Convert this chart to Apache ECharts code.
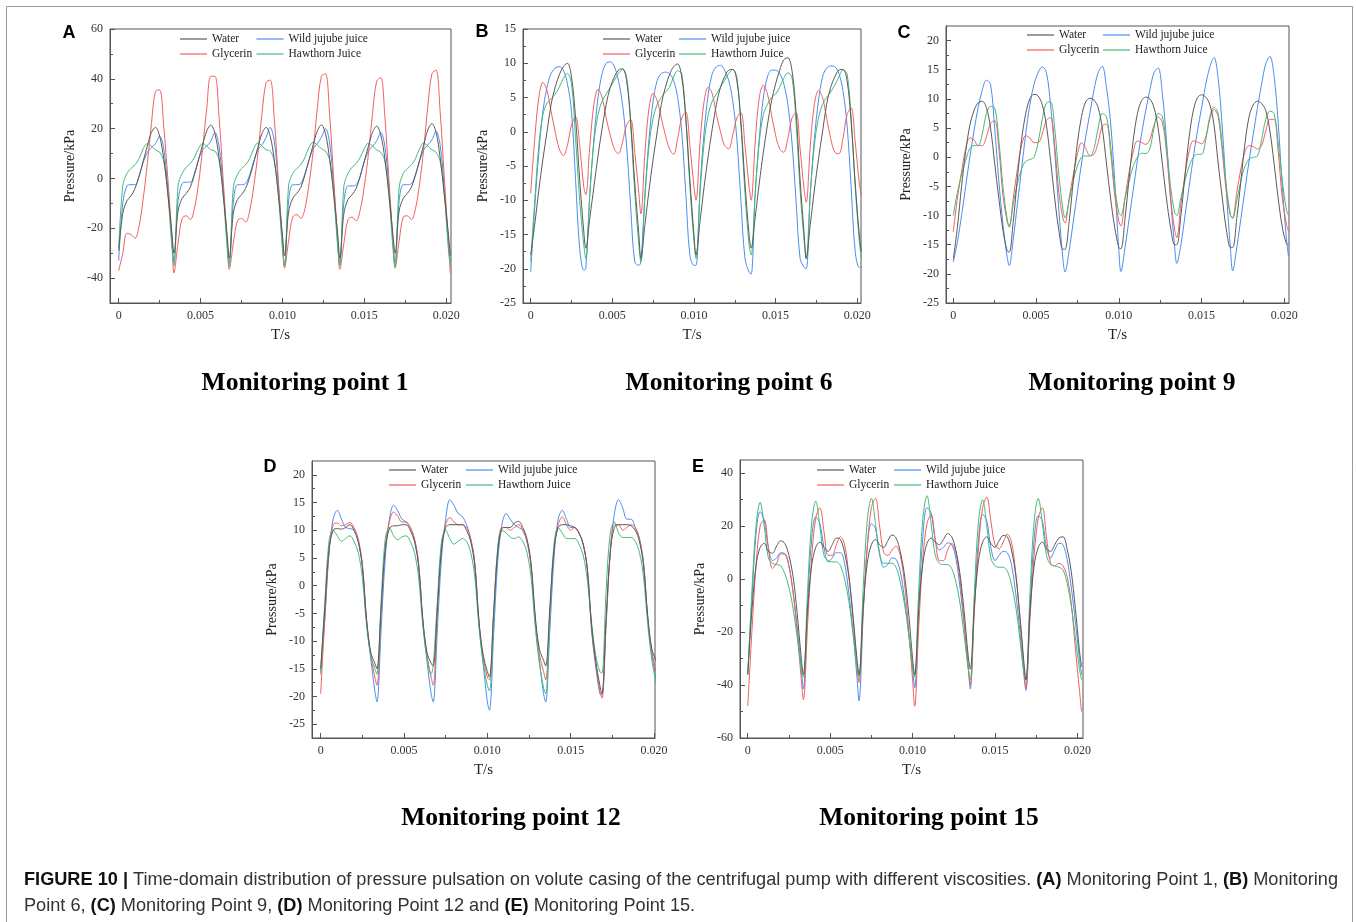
<!DOCTYPE html>
<html>
<head>
<meta charset="utf-8">
<title>Pressure pulsation</title>
<script src="https://cdn.jsdelivr.net/npm/echarts@6/dist/echarts.min.js"></script>
<style>
  html, body { margin: 0; padding: 0; background: #fff; }
  #main { width: 1356px; height: 922px; }
</style>
</head>
<body>
<div id="main"></div>
<script>
// time samples in ms (one line per impeller period)
const timeMs = [
  0, 0.25, 0.5, 0.75, 1, 1.25, 1.5, 1.75, 2, 2.25, 2.5, 2.75, 3, 3.25,
  3.375, 3.625, 3.875, 4.125, 4.375, 4.625, 4.875, 5.125, 5.375, 5.625, 5.875, 6.125, 6.375, 6.625,
  6.75, 7, 7.25, 7.5, 7.75, 8, 8.25, 8.5, 8.75, 9, 9.25, 9.5, 9.75, 10,
  10.125, 10.375, 10.625, 10.875, 11.125, 11.375, 11.625, 11.875, 12.125, 12.375, 12.625, 12.875, 13.125, 13.375,
  13.5, 13.75, 14, 14.25, 14.5, 14.75, 15, 15.25, 15.5, 15.75, 16, 16.25, 16.5, 16.75,
  16.875, 17.125, 17.375, 17.625, 17.875, 18.125, 18.375, 18.625, 18.875, 19.125, 19.375, 19.625, 19.875, 20.125,
  20.25
]

// ---- Monitoring point 1 ----
const waterA = [
  -29, -14, -9, -7, -4, 1, 7, 13, 18.5, 20.5, 17, 8, -6, -22,
  -30, -13, -8, -6, -3.5, 1.5, 7.5, 13.5, 19, 21.5, 18, 8.5, -6, -23,
  -32, -14, -8.5, -6.5, -4, 0.5, 6.5, 12.5, 18, 20.5, 17, 7.5, -6.5, -23,
  -31, -13.5, -8, -6, -3.5, 1.5, 7.5, 13.5, 19, 21.5, 18, 8, -6, -22.5,
  -32, -14, -8.5, -6.5, -4, 1, 7, 13, 18.5, 21, 17.5, 8, -6.5, -23,
  -30, -13, -8, -6, -3.5, 1.5, 7.5, 13.5, 19.5, 22, 18.5, 8.5, -6, -22,
  -31
]
const jujubeA = [
  -33, -10, -3, -2.5, -2.5, 1, 6.5, 10.5, 12.5, 14, 17, 12, -4, -25,
  -33.5, -9, -2, -1.5, -1.5, 2, 7.5, 11.5, 13, 15, 18.5, 13, -3.5, -25.5,
  -34, -9.5, -2.5, -2.5, -2, 1.5, 7, 11.5, 13.5, 16.5, 20.5, 15, -3, -26,
  -35, -9, -2.5, -2.5, -2, 2, 7.5, 12, 14, 16.5, 20, 14.5, -3, -26,
  -34, -9.5, -3, -3, -2.5, 1, 7, 11, 13, 15, 18.5, 13, -3.5, -25.5,
  -34, -9, -2.5, -2.5, -2, 1.5, 7, 11.5, 13.5, 15.5, 19, 13.5, -3.5, -25,
  -33.5
]
const glycerinA = [
  -37, -30, -22, -22.5, -24, -19, -8, 6, 22, 35, 35.5, 21, 0, -23,
  -38, -26, -16, -15, -16.5, -12, -2, 12, 28, 41, 41, 25, 0, -25,
  -36.5, -26, -17, -16, -17.5, -13, -3, 10, 26, 38.5, 39.5, 24, -1, -25,
  -36, -25, -15.5, -14.5, -16, -12, -2, 11, 28, 41, 42, 26, 0, -25,
  -36.5, -26, -16.5, -15.5, -17, -12.5, -3, 10, 26, 39, 40.5, 25, -0.5, -25,
  -36, -25, -15.5, -15, -16.5, -12, -2, 12, 29, 42, 43.5, 27, 1, -25,
  -38
]
const hawthornA = [
  -28, -3, 2, 4, 5.5, 8, 12, 14, 13, 11.5, 10.5, 7, -6, -28,
  -35, -3, 2, 4.5, 6, 8.5, 12, 14, 13, 11.5, 11, 7.5, -6, -28,
  -35.5, -3.5, 1.5, 4, 5.5, 8, 12, 14.3, 13, 11.5, 11, 7, -6.5, -28.5,
  -35, -3, 2, 4, 5.5, 8.5, 12.5, 14.5, 13.5, 12, 11, 7.5, -6, -28,
  -35, -3, 2, 4.5, 6, 8.5, 12, 14.2, 13, 11.5, 10.5, 7, -6.5, -28.5,
  -35.5, -3.5, 2, 4, 5.5, 8, 12, 14.3, 13, 11.5, 10.5, 7, -6, -28,
  -35
]

// ---- Monitoring point 6 ----
const waterB = [
  -18, -13.5, -8.5, -4, 0, 4, 6.5, 8.3, 9.5, 10, 8, 2, -7, -14.5,
  -17, -12.5, -8, -3.5, 0.5, 4, 6.5, 8, 9, 9.2, 7.5, 1.5, -7.5, -15,
  -18.5, -13.5, -8.5, -4, 0, 4, 6.5, 8.3, 9.5, 9.9, 8, 2, -7, -15,
  -18, -13, -8, -3.5, 0.5, 4, 6.5, 8, 9, 9.1, 7.5, 1.5, -7.5, -15,
  -17, -12.5, -7.5, -3, 1, 4.5, 7, 9, 10.5, 10.8, 9, 3, -7, -15,
  -18.5, -13.5, -8.5, -4, 0, 4, 6.5, 8, 9, 9.1, 7.5, 1.5, -7.5, -15,
  -17.5
]
const jujubeB = [
  -20.5, -11, -3, 3, 6.5, 8.5, 9.3, 9.5, 9, 7, 3, -7, -17, -20.2,
  -20, -9, -1, 5, 8.5, 10, 10.2, 9.5, 7.5, 4, -2, -11, -19, -19.5,
  -19, -9, -1, 4.5, 7.5, 8.5, 8.7, 8.5, 7.5, 5, 0, -9, -18, -19.5,
  -19.5, -8, 0, 5.5, 8.5, 9.5, 9.7, 9, 7.5, 4.5, -1, -10, -18.5, -20.5,
  -20.8, -9, -1, 5, 8, 9, 9, 8.5, 7, 4, -1.5, -10, -18.5, -19.8,
  -20, -9, -1, 4.5, 8, 9.3, 9.6, 9.5, 8.5, 6, 1, -8, -17.5, -19.8,
  -19.8
]
const glycerinB = [
  -9, -1, 5, 7.2, 6, 3, 0, -2.5, -3.5, -2, 1, 2.2, -2, -8,
  -9.2, -2, 4, 6.2, 5, 2, -0.5, -2.5, -3.2, -1.5, 1, 1.8, -3, -9,
  -12, -3, 3.5, 5.6, 4.5, 2, -0.5, -2.5, -3.3, -1, 2, 2.9, -2, -8,
  -10, -1.5, 4.5, 6.5, 5.5, 2.5, 0, -2, -2.5, -0.5, 2, 2.8, -2, -8,
  -10, -1.5, 5, 6.8, 5.5, 2.5, -0.5, -2.5, -3, -1, 2, 2.8, -2.5, -8.5,
  -10.3, -2, 4, 6, 5, 2, -1, -3, -3.2, -1, 2.5, 3.5, -1.5, -7.5,
  -9.2
]
const hawthornB = [
  -19, -10, -2, 2.5, 4.2, 4.8, 5.5, 6.5, 7.8, 8.5, 7, -1, -10, -16.5,
  -18.5, -9, -1.5, 2.5, 4.5, 5.5, 6.5, 7.5, 8.5, 9.1, 8, 1, -9, -16.5,
  -19, -9.5, -2, 2, 4, 5, 5.8, 6.5, 8, 8.9, 8.5, 2, -8, -16,
  -18.5, -9, -1.5, 2.5, 4.5, 5.5, 6.5, 7.5, 8.5, 9.1, 8, 1, -9, -16.5,
  -18, -9, -1.5, 2.5, 4, 5, 5.5, 6.5, 7.8, 8.6, 8, 1.5, -8.5, -16,
  -18.5, -9, -2, 2, 4, 5, 5.8, 6.8, 8, 9, 8.5, 2, -8, -16,
  -18.5
]

// ---- Monitoring point 9 ----
const waterC = [
  -17.5, -12, -5, 1, 5.5, 8, 9.3, 9.6, 8.5, 5, -1, -7, -12.5, -16,
  -16.3, -11, -3.5, 3, 7.5, 10, 10.8, 10.5, 9, 5.5, -0.5, -7, -12.5, -15.8,
  -15.8, -11, -4, 2.5, 7, 9.5, 10.1, 9.8, 8.5, 5, -1, -7, -12, -15.5,
  -15.7, -10.5, -3.5, 3, 7.5, 9.7, 10.3, 10, 8.5, 5, -1, -7, -12, -15,
  -15, -10, -3, 3.5, 8, 10.2, 10.7, 10.3, 9, 5.5, -1, -7, -12.5, -15.5,
  -15.5, -10.5, -4, 2.5, 7, 9, 9.6, 9.2, 8, 4.5, -1, -7, -12, -14.8,
  -15
]
const jujubeC = [
  -18, -14.5, -10, -5, 0, 4.5, 8.5, 11.5, 13.2, 12.5, 5, -4, -11.5, -17,
  -18.6, -14, -8, -2, 4, 9, 12.5, 14.5, 15.5, 14.5, 9, 1, -9, -17.5,
  -19.7, -16, -11, -6, -1, 3.5, 7.5, 11.5, 14.5, 15.6, 12, 6, -4, -16,
  -19.6, -15.5, -10.5, -5.5, -0.5, 4, 8, 11.5, 14.5, 15.3, 11, 3, -7, -15.5,
  -18.2, -15, -10, -5, 0, 4.5, 8.5, 12.5, 15.5, 17.1, 13.5, 5, -6, -16,
  -19.5, -15.5, -10.5, -5.5, -0.5, 4, 8.5, 12.5, 16, 17.3, 14, 6, -5, -14,
  -17
]
const glycerinC = [
  -12.8, -7, -2.5, 1.5, 3.3, 3, 2, 2, 3.5, 5.8, 6.3, 1.5, -6.5, -11,
  -11.8, -7, -2, 2, 3.7, 3.3, 2.5, 2.5, 4, 6.3, 6.8, 2, -6, -10.5,
  -11.3, -7, -3, 0.5, 2.5, 1.5, 0.3, 0.5, 2.5, 5.3, 5.7, 1, -6.5, -11,
  -11.8, -7, -2.5, 1, 2.8, 2.5, 2.2, 3, 5.5, 6.9, 6, 1, -7, -12.5,
  -13.8, -8, -3, 1, 2.8, 2.6, 2.3, 3.5, 6.5, 8.2, 7, 1, -6, -10,
  -10.3, -6, -2, 1, 2, 1.8, 1.4, 2, 4.5, 6.5, 6.5, 1, -7, -11.5,
  -12.7
]
const hawthornC = [
  -10, -6, -3, -0.5, 1.5, 2, 2, 4, 7.5, 8.7, 8.5, 3, -5, -10.5,
  -12, -8, -4.5, -2, -0.7, -0.4, 0, 2.5, 6.5, 9.3, 9.5, 5, -3, -9,
  -10.4, -7.5, -4, -1.5, 0, 0.2, 0.2, 1.5, 5, 7.5, 7, 2, -5, -9.5,
  -10, -7, -4, -1.5, 0, 0.7, 0.6, 1.5, 5, 7.5, 7, 2, -5, -9.5,
  -10, -7, -4, -1.5, 0, 0.5, 0.5, 3, 7, 8.6, 7.5, 2, -5, -10,
  -10.5, -7.5, -4, -1.5, -0.3, 0, 0.2, 3, 6.5, 7.9, 7.5, 2.5, -4, -9,
  -10
]

// ---- Monitoring point 12 ----
const waterD = [
  -15, -4, 6.5, 10, 10.3, 10.2, 10.5, 11, 10, 8, 3.5, -6, -12, -14,
  -15, -4, 6.5, 10.3, 10.8, 10.8, 11, 11, 10, 8, 3.5, -6, -12, -14,
  -14.5, -4, 6.5, 10.5, 11, 11, 11, 11, 10, 8, 3.5, -6.5, -12.5, -15.5,
  -16.5, -5, 6, 10.3, 10.5, 10.5, 11.3, 11.6, 10.5, 8.5, 4, -5.5, -11.5, -13.5,
  -14.5, -4, 6.5, 10.5, 11, 11, 10.8, 10.5, 9.5, 7.5, 3, -7, -13.5, -18,
  -19.5, -6, 6, 10.5, 11, 11, 11, 10.8, 10, 8, 3.5, -5.5, -11.5, -13.5,
  -14.5
]
const jujubeD = [
  -16, -6, 6, 12, 13.6, 12, 10.5, 10.3, 10, 8, 3.5, -6.5, -13, -19,
  -21, -8, 5, 12, 14.5, 13.5, 12, 11.5, 10.5, 8.5, 4, -6.5, -13.5, -19.5,
  -21, -8, 5, 12, 15.5, 14.5, 13, 12.5, 11, 8.5, 4, -7, -14, -21,
  -22.5, -9, 4.5, 11, 13, 12, 11, 10.5, 10, 8, 3.5, -6.5, -13.5, -19.5,
  -21, -8, 5, 12, 13.6, 12, 10.5, 10.5, 9.5, 7.5, 3, -8, -14.5, -19.5,
  -19.7, -7, 6, 13, 15.5, 14, 12, 12, 10.5, 8.5, 4, -6, -12.5, -17,
  -18
]
const glycerinD = [
  -19.5, -6, 6, 11, 11.3, 10.8, 11, 11.4, 10.5, 8.5, 4, -6, -12.5, -16.5,
  -18, -5, 7, 11.5, 13.3, 12.5, 11.5, 11.5, 10.5, 8.5, 4, -6, -12.5, -16.5,
  -18, -5, 7, 11, 12.3, 11.5, 11, 11, 10.5, 8.5, 4, -6.5, -13, -16.5,
  -17, -5, 6.5, 10.5, 10.5, 10, 10.5, 11, 10, 8, 3.5, -6, -12.5, -15.5,
  -17, -5, 6.5, 11, 12.4, 11, 10, 10.5, 9.5, 7.5, 3, -7.5, -14, -19,
  -20.3, -7, 6, 11, 11, 10, 10.5, 11, 10.5, 8.5, 4, -6, -12, -15.5,
  -17.5
]
const hawthornD = [
  -15.5, -3, 8, 10, 9, 8, 8.5, 9, 8, 6, 1.5, -7, -12.5, -15,
  -16, -3, 8.5, 10.5, 9, 8.3, 8.8, 9, 8, 6, 1.5, -7, -13, -16,
  -14.5, -3, 8, 10, 8.5, 7.5, 8, 8.5, 8, 6, 1.5, -7.5, -14, -18,
  -19, -6, 7, 10, 9.5, 8.8, 8.5, 8.8, 8, 6, 1.5, -7.5, -14, -18.5,
  -19.5, -5, 7.5, 10.5, 9.5, 8.5, 8.5, 8.5, 7.5, 5.5, 1, -6.5, -12.5, -15.5,
  -15.8, -1, 9.5, 11.5, 9.5, 8.7, 8.7, 8.7, 8, 6, 1.5, -7, -13.5, -17.5,
  -19
]

// ---- Monitoring point 15 ----
const waterE = [
  -36, -12, 5, 12, 13.5, 10.5, 9.8, 12.5, 14.5, 13.5, 9, 1, -13, -30,
  -36, -12, 5, 12, 14, 12, 10.5, 13, 15.5, 15, 10, 1.5, -13, -30,
  -36, -11, 6, 13, 15, 13, 12, 14.5, 16.7, 15.5, 10.5, 2, -12, -30,
  -36, -11, 6, 13.5, 15.5, 14, 13, 15, 17.2, 16, 11, 2, -12, -29,
  -34, -10, 7, 14, 16, 13.5, 12, 14.5, 16.5, 16, 11, 2, -13, -31,
  -38, -12, 5, 12, 14, 11.5, 10.5, 13, 15.5, 16, 11.5, 3, -11, -27,
  -33
]
const jujubeE = [
  -36, -8, 17, 25.5, 22, 12, 7, 8, 10, 9.5, 5, -5, -18, -34,
  -41.5, -10, 15, 23.5, 21, 12, 6.5, 8, 10, 10, 6, -5, -19, -37,
  -46, -14, 12, 21, 19, 10, 4.5, 5.5, 8, 7.5, 3, -7, -20, -34,
  -41, -10, 16, 27, 25, 15, 11, 12, 13.7, 13, 8, -3, -17, -33,
  -41.5, -10, 15, 24.5, 22, 12, 7, 9, 10.5, 10, 5.5, -5, -19, -36,
  -42, -11, 15, 24, 22, 12, 8, 11, 13.5, 13, 7.5, -3, -16, -30,
  -36
]
const glycerinE = [
  -48, -20, 5, 20, 22.5, 12, 4, 6, 9.5, 9.5, 5, -5, -20, -38,
  -45.5, -18, 8, 23, 27, 18, 9, 9, 13, 16, 13, 2, -14, -33,
  -39, -12, 12, 27, 30.5, 20, 10, 9, 11, 12.5, 9, -1, -18, -38,
  -48, -18, 8, 21, 24.5, 15, 7, 7, 11, 13.5, 10, 0, -16, -33,
  -40, -12, 12, 27, 31, 22, 13, 11.5, 14, 17, 14, 3, -14, -33,
  -41, -15, 9, 23, 27, 16, 6, 5, 6, 5, 1, -9, -26, -42,
  -50
]
const hawthornE = [
  -36, -5, 20, 29, 20, 8, 6, 5.5, 5, 2, -3, -11, -22, -34,
  -37, -5, 21, 29.5, 20, 9, 7, 6.5, 6.5, 5, 0, -8, -20, -33,
  -37, -4, 22, 30.5, 21, 9, 6, 6, 6, 4.5, -1, -9, -20, -33,
  -37, -4, 23, 31.5, 21, 9, 6, 5.5, 5.5, 4, -1, -9, -21, -34,
  -38, -5, 22, 30, 20, 8, 5, 4.5, 4.5, 3, -2, -10, -22, -35,
  -38, -5, 22, 30.5, 21, 9, 5.5, 5, 4.5, 3.5, -1.5, -10, -22, -34,
  -38
]

// tick positions
const xMajor = [0, 5, 10, 15, 20]
const xMinor = [2.5, 7.5, 12.5, 17.5]
const yMajorA = [-40, -20, 0, 20, 40, 60]
const yMinorA = [-30, -10, 10, 30, 50]
const yMajorB = [-25, -20, -15, -10, -5, 0, 5, 10, 15]
const yMinorB = [-22.5, -17.5, -12.5, -7.5, -2.5, 2.5, 7.5, 12.5]
const yMajorC = [-25, -20, -15, -10, -5, 0, 5, 10, 15, 20]
const yMinorC = [-22.5, -17.5, -12.5, -7.5, -2.5, 2.5, 7.5, 12.5, 17.5]
const yMajorE = [-60, -40, -20, 0, 20, 40]
const yMinorE = [-50, -30, -10, 10, 30]

const names = ['Water', 'Wild jujube juice', 'Glycerin', 'Hawthorn Juice']
const colors = ['#5a5a5a', '#4a8df0', '#f25f5f', '#45bb78']
const serif = '"Liberation Serif", "Times New Roman", serif'
const axisColor = '#555'

const panels = [
  { title: 'Monitoring point 1', letter: 'A', values: [waterA, jujubeA, glycerinA, hawthornA],
    box: [110, 29, 341, 274], x: [-0.53, 20.29], y: [-50, 60], yMajor: yMajorA, yMinor: yMinorA,
    legend: [180, 256.5, 32], letterPos: [69, 33], titlePos: [305, 383] },
  { title: 'Monitoring point 6', letter: 'B', values: [waterB, jujubeB, glycerinB, hawthornB],
    box: [523, 29, 338, 274], x: [-0.47, 20.23], y: [-25, 15], yMajor: yMajorB, yMinor: yMinorB,
    legend: [603, 679, 32], letterPos: [482, 32], titlePos: [729, 383] },
  { title: 'Monitoring point 9', letter: 'C', values: [waterC, jujubeC, glycerinC, hawthornC],
    box: [946, 26, 343, 277], x: [-0.44, 20.28], y: [-25, 22.5], yMajor: yMajorC, yMinor: yMinorC,
    legend: [1027, 1103, 28], letterPos: [904, 33], titlePos: [1132, 383] },
  { title: 'Monitoring point 12', letter: 'D', values: [waterD, jujubeD, glycerinD, hawthornD],
    box: [312, 461, 343, 277], x: [-0.52, 20.06], y: [-27.5, 22.5], yMajor: yMajorC, yMinor: yMinorC,
    legend: [389, 466, 463], letterPos: [270, 467], titlePos: [511, 818] },
  { title: 'Monitoring point 15', letter: 'E', values: [waterE, jujubeE, glycerinE, hawthornE],
    box: [740, 460, 343, 278], x: [-0.47, 20.34], y: [-60, 45], yMajor: yMajorE, yMinor: yMinorE,
    legend: [817, 894, 463], letterPos: [698, 467], titlePos: [929, 818] }
]

const chart = echarts.init(document.getElementById('main'))
const grid = []
const xAxis = []
const yAxis = []
const series = []
const legend = []
const graphic = [
  { type: 'rect', shape: { x: 6.5, y: 6.5, width: 1346, height: 930 }, style: { fill: 'none', stroke: '#999', lineWidth: 1 }, silent: true }
]

panels.forEach((p, i) => {
  grid.push({
    left: p.box[0], top: p.box[1], width: p.box[2], height: p.box[3],
    show: true, borderColor: axisColor, borderWidth: 1, outerBoundsMode: 'none'
  })
  // main x axis with labels + major ticks, second one only for the short ticks
  xAxis.push({
    gridIndex: i, type: 'value', position: 'bottom', min: p.x[0], max: p.x[1],
    name: 'T/s', nameLocation: 'middle', nameGap: 25,
    nameTextStyle: { fontFamily: serif, fontSize: 15, color: '#222' },
    axisLine: { onZero: false, lineStyle: { color: axisColor } },
    axisTick: { inside: true, length: 5, customValues: xMajor, lineStyle: { color: axisColor } },
    axisLabel: {
      customValues: xMajor, margin: 7, fontFamily: serif, fontSize: 12, color: '#333',
      formatter: v => (v === 0 ? '0' : (v / 1000).toFixed(3))
    },
    splitLine: { show: false }
  })
  xAxis.push({
    gridIndex: i, type: 'value', position: 'bottom', min: p.x[0], max: p.x[1],
    axisLine: { show: false, onZero: false },
    axisTick: { inside: true, length: 3, customValues: xMinor, lineStyle: { color: axisColor } },
    axisLabel: { show: false },
    splitLine: { show: false }
  })
  yAxis.push({
    gridIndex: i, type: 'value', position: 'left', min: p.y[0], max: p.y[1],
    name: 'Pressure/kPa', nameLocation: 'middle', nameGap: 33,
    nameTextStyle: { fontFamily: serif, fontSize: 14, color: '#222' },
    axisLine: { show: true, onZero: false, lineStyle: { color: axisColor } },
    axisTick: { show: true, inside: true, length: 5, customValues: p.yMajor, lineStyle: { color: axisColor } },
    axisLabel: { customValues: p.yMajor, margin: 7, fontFamily: serif, fontSize: 12, color: '#333' },
    splitLine: { show: false }
  })
  yAxis.push({
    gridIndex: i, type: 'value', position: 'left', min: p.y[0], max: p.y[1],
    axisLine: { show: false, onZero: false },
    axisTick: { show: true, inside: true, length: 3, customValues: p.yMinor, lineStyle: { color: axisColor } },
    axisLabel: { show: false },
    splitLine: { show: false }
  })

  p.values.forEach((vals, k) => {
    series.push({
      name: names[k],
      type: 'line',
      xAxisIndex: i * 2,
      yAxisIndex: i * 2,
      data: timeMs.map((t, j) => [t, vals[j]]),
      smooth: 0.35,
      symbol: 'none',
      clip: true,
      lineStyle: { width: 1, color: colors[k] },
      itemStyle: { color: colors[k] },
      z: k === 0 ? 3 : 2
    })
  })

  const legendBase = {
    orient: 'vertical', top: p.legend[2], icon: 'rect', itemWidth: 27, itemHeight: 1.2, itemGap: 1,
    selectedMode: false, padding: 0,
    textStyle: { fontFamily: serif, fontSize: 11.5, color: '#222', lineHeight: 14 }
  }
  legend.push(Object.assign({}, legendBase, { left: p.legend[0], data: [names[0], names[2]] }))
  legend.push(Object.assign({}, legendBase, { left: p.legend[1], data: [names[1], names[3]] }))

  graphic.push({
    type: 'text', x: p.letterPos[0], y: p.letterPos[1], silent: true,
    style: { text: p.letter, font: 'bold 18px "Liberation Sans", Arial, sans-serif', fill: '#000', textAlign: 'center', textVerticalAlign: 'middle' }
  })
  graphic.push({
    type: 'text', x: p.titlePos[0], y: p.titlePos[1], silent: true,
    style: { text: p.title, font: 'bold 25.5px "Liberation Serif", "Times New Roman", serif', fill: '#000', textAlign: 'center', textVerticalAlign: 'middle' }
  })
})

// caption: Liberation Sans squeezed horizontally to the width of the printed line
const capFont = '"Liberation Sans", Arial, sans-serif'
const capSize = 19
const line1 = [
  ['b', 'FIGURE 10 |'], ['r', ' Time-domain distribution of pressure pulsation on volute casing of the centrifugal pump with different viscosities. '],
  ['b', '(A)'], ['r', ' Monitoring Point 1, '], ['b', '(B)'], ['r', ' Monitoring']
]
const line2 = [
  ['r', 'Point 6, '], ['b', '(C)'], ['r', ' Monitoring Point 9, '], ['b', '(D)'], ['r', ' Monitoring Point 12 and '],
  ['b', '(E)'], ['r', ' Monitoring Point 15.']
]
const ctx = document.createElement('canvas').getContext('2d')
let w1 = 0
line1.forEach(([s, t]) => {
  ctx.font = (s === 'b' ? 'bold ' : '') + capSize + 'px ' + capFont
  w1 += ctx.measureText(t).width
})
const capScale = 1314 / w1
const toRich = parts => parts.map(([s, t]) => (s === 'b' ? '{b|' + t + '}' : '{r|' + t + '}')).join('')
const capRich = {
  b: { fontFamily: capFont, fontSize: capSize, fontWeight: 'bold', fill: '#111' },
  r: { fontFamily: capFont, fontSize: capSize, fill: '#333' }
}
;[[line1, 880], [line2, 906]].forEach(([parts, y]) => {
  graphic.push({
    type: 'text', x: 24, y: y, scaleX: capScale, silent: true,
    style: { text: toRich(parts), fontFamily: capFont, fontSize: capSize, textVerticalAlign: 'middle', rich: capRich }
  })
})

chart.setOption({
  animation: false,
  backgroundColor: '#fff',
  grid: grid,
  xAxis: xAxis,
  yAxis: yAxis,
  legend: legend,
  series: series,
  graphic: graphic
})
</script>
</body>
</html>
